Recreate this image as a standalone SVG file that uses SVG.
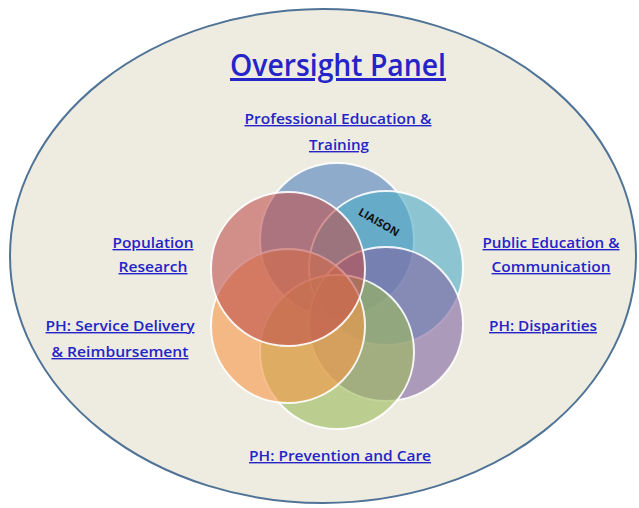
<svg xmlns="http://www.w3.org/2000/svg" width="639" height="508" viewBox="0 0 639 508">
<style>
.lbl{font-family:"Open Sans","Liberation Sans",sans-serif;font-weight:600;fill:#2424c8;text-decoration:underline;text-anchor:middle}
.sm{font-size:14px}
.c{fill-opacity:0.6;stroke:#ffffff;stroke-width:2;stroke-opacity:0.9}
</style>
<rect width="639" height="508" fill="#ffffff"/>
<g id="panel">
<ellipse cx="323" cy="256" rx="313" ry="247" fill="#eeece1" stroke="#4f7396" stroke-width="2"/>
<text class="lbl" x="338" y="76" font-size="30" font-weight="400" textLength="216" lengthAdjust="spacingAndGlyphs">Oversight Panel</text>
</g>
<g id="node-professional">
<circle class="c" cx="337" cy="240" r="77" fill="#4f81bd"/>
<text class="lbl sm" x="338" y="124" textLength="187" lengthAdjust="spacingAndGlyphs">Professional Education &amp;</text>
<text class="lbl sm" x="339" y="150" textLength="60" lengthAdjust="spacingAndGlyphs">Training</text>
</g>
<g id="node-public">
<circle class="c" cx="386" cy="268" r="77" fill="#4bacc6"/>
<text class="lbl sm" x="551" y="248" textLength="137" lengthAdjust="spacingAndGlyphs">Public Education &amp;</text>
<text class="lbl sm" x="551" y="272" textLength="119" lengthAdjust="spacingAndGlyphs">Communication</text>
</g>
<g id="node-disparities">
<circle class="c" cx="386" cy="324" r="77" fill="#8064a2"/>
<text class="lbl sm" x="543" y="331" textLength="108" lengthAdjust="spacingAndGlyphs">PH: Disparities</text>
</g>
<g id="node-prevention">
<circle class="c" cx="337" cy="352" r="77" fill="#9bbb59"/>
<text class="lbl sm" x="340" y="461" textLength="182" lengthAdjust="spacingAndGlyphs">PH: Prevention and Care</text>
</g>
<g id="node-service">
<circle class="c" cx="288" cy="326" r="77" fill="#f79646"/>
<text class="lbl sm" x="120" y="331" textLength="149" lengthAdjust="spacingAndGlyphs">PH: Service Delivery</text>
<text class="lbl sm" x="120" y="357" textLength="137" lengthAdjust="spacingAndGlyphs">&amp; Reimbursement</text>
</g>
<g id="node-population">
<circle class="c" cx="288" cy="269" r="77" fill="#c0504d"/>
<text class="lbl sm" x="153" y="248" textLength="81" lengthAdjust="spacingAndGlyphs">Population</text>
<text class="lbl sm" x="153" y="272" textLength="69" lengthAdjust="spacingAndGlyphs">Research</text>
</g>
<g id="node-liaison">
<text x="379" y="226" transform="rotate(30 379 222)" font-family="'Open Sans','Liberation Sans',sans-serif" font-weight="700" font-size="11" fill="#111111" text-anchor="middle">LIAISON</text>
</g>
</svg>
